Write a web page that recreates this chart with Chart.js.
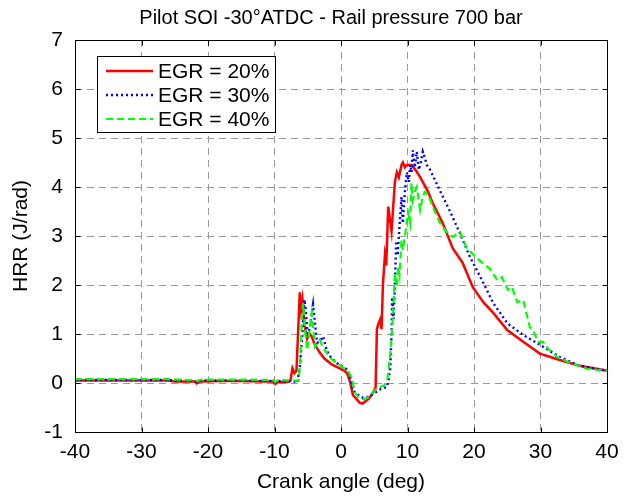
<!DOCTYPE html>
<html><head><meta charset="utf-8">
<script src="https://cdn.jsdelivr.net/npm/chart.js@4"></script>
<style>html,body{margin:0;padding:0;background:#fff}#wrap{width:634px;height:496px}</style>
</head><body><div id="wrap"><canvas id="c" width="634" height="496"></canvas></div>
<script>
const chartTitle = 'Pilot SOI -30°ATDC - Rail pressure 700 bar';
const xAxisTitle = 'Crank angle (deg)';
const yAxisTitle = 'HRR (J/rad)';
const xTicks = [-40,-30,-20,-10,0,10,20,30,40];
const yTicks = [-1,0,1,2,3,4,5,6,7];
const seriesNames = ['EGR = 20%','EGR = 30%','EGR = 40%'];

const egr20X = [-40,-35,-30,-26,-25,-22,-21.7,-21.2,-18,-15,-12,-10.3,-9.9,-9.4,-8,-7.6,-7.3,-7.0,-6.7,-6.4,-6.2,-6.0,-5.8,-5.5,-5.1,-4.7,-4.4,-4.0,-3.2,-2.5,-1.4,-0.5,0.5,1.0,1.4,1.8,2.3,2.8,3.2,3.6,4.2,4.8,5.2,5.4,5.6,5.9,6.1,6.3,6.6,6.8,7.1,7.4,7.6,8.1,8.4,8.7,9.1,9.3,9.6,9.9,10.6,11.2,11.9,13.1,13.8,15.3,16.8,18.3,19.8,21.4,22.9,25,27.4,29.9,32.9,35.9,38,40];
const egr20Y = [0.05,0.05,0.05,0.05,0.03,0.03,-0.01,0.03,0.04,0.04,0.03,0.03,-0.02,0.02,0.02,0.05,0.3,0.2,0.25,1.2,1.85,1.5,1.7,1.2,0.9,1.0,0.95,0.8,0.62,0.5,0.38,0.32,0.25,0.18,0.0,-0.25,-0.32,-0.4,-0.42,-0.38,-0.32,-0.2,-0.1,1.1,1.2,1.3,1.1,2.0,2.6,2.4,3.6,3.3,3.1,4.1,4.3,4.2,4.45,4.5,4.4,4.45,4.45,4.35,4.2,3.9,3.67,3.26,2.75,2.45,1.96,1.65,1.43,1.08,0.84,0.6,0.47,0.35,0.3,0.25];

const egr30X = [-40,-30,-26,-25,-22,-21.7,-21,-15,-10.2,-9.9,-9.5,-7,-6.6,-6.2,-5.8,-5.5,-5.3,-5.0,-4.6,-4.2,-3.9,-3.6,-3.2,-2.7,-2.1,-1.5,-0.6,0.3,1.0,1.4,1.8,2.3,3.3,4.2,5.1,6.0,6.9,7.2,7.4,7.6,7.7,7.9,8.1,8.3,8.5,8.9,9.1,9.3,9.6,9.9,10.2,10.4,10.6,10.8,11.1,11.4,11.7,12.0,12.3,12.6,12.9,13.4,14.9,16.4,17.9,19.4,20.9,22.9,25,27.4,29.9,32.9,35.9,38,40];
const egr30Y = [0.06,0.06,0.06,0.05,0.04,0.02,0.05,0.05,0.04,0.01,0.04,0.03,0.0,0.3,1.0,1.7,1.5,0.95,1.2,1.6,1.2,0.82,0.85,0.95,0.65,0.52,0.4,0.33,0.27,0.1,-0.14,-0.22,-0.3,-0.28,-0.2,-0.12,-0.08,0.1,0.3,1.0,1.75,1.3,2.0,2.9,2.6,3.4,3.8,3.26,3.9,4.3,4.1,4.45,4.3,4.75,4.4,4.72,4.35,4.5,4.72,4.6,4.45,4.35,3.92,3.5,3.05,2.57,2.18,1.63,1.22,0.98,0.78,0.53,0.35,0.3,0.25];

const egr40X = [-40,-30,-26,-25,-22,-21.7,-21,-15,-10.2,-9.9,-9.5,-7,-6.4,-6.1,-5.9,-5.7,-5.4,-5.1,-4.8,-4.4,-4.1,-3.9,-3.2,-2.6,-1.5,-0.6,0.3,1.0,1.6,2.1,2.7,3.3,4.0,4.8,5.5,6.5,7.0,7.4,7.7,7.9,8.1,8.4,8.6,8.8,9.1,9.3,9.8,10.1,10.4,10.6,10.8,11.1,11.4,11.9,12.3,12.6,13.1,13.8,14.9,15.9,16.8,17.9,18.9,20.4,22.4,23.5,24.2,25.1,25.7,26.5,27.4,28.4,28.9,29.6,30.4,31.1,32.5,34.5,37,40];
const egr40Y = [0.08,0.08,0.08,0.07,0.06,0.04,0.07,0.07,0.06,0.02,0.06,0.05,0.05,0.5,1.3,1.63,1.1,0.67,1.0,1.43,1.0,0.74,0.88,0.7,0.5,0.4,0.32,0.25,0.12,-0.2,-0.3,-0.33,-0.3,-0.2,-0.1,-0.05,0.1,0.6,1.1,1.6,2.24,1.97,2.37,2.2,2.92,2.71,3.18,3.47,3.26,4.08,3.73,3.9,4.0,3.53,3.8,3.9,3.84,3.6,3.26,3.08,2.98,3.08,2.76,2.55,2.33,2.1,2.16,1.9,1.96,1.65,1.69,1.14,1.08,0.84,0.84,0.71,0.53,0.41,0.29,0.25];

const FONT = 'Liberation Sans, Arial, Helvetica, sans-serif';
const toPts = (xs, ys) => xs.map((x, i) => ({x: x, y: ys[i]}));

const styles = [
  {color: '#ff0000', width: 2.5, dash: []},
  {color: '#0000ff', width: 2.4, dash: [2, 3]},
  {color: '#00ff00', width: 2.2, dash: [7, 4]}
];
const seriesData = [toPts(egr20X, egr20Y), toPts(egr30X, egr30Y), toPts(egr40X, egr40Y)];

const frame = {
  id: 'frame',
  afterDatasetsDraw(chart) {
    const {ctx, chartArea: a, scales} = chart;
    const L = Math.round(a.left) + 0.5, R = Math.round(a.right) + 0.5;
    const T = Math.round(a.top) + 0.5, B = Math.round(a.bottom) + 0.5;
    ctx.save();
    ctx.strokeStyle = '#000'; ctx.lineWidth = 1; ctx.setLineDash([]);
    ctx.strokeRect(L, T, R - L, B - T);
    ctx.beginPath();
    xTicks.forEach(v => {
      const p = Math.round(scales.x.getPixelForValue(v)) + 0.5;
      ctx.moveTo(p, B); ctx.lineTo(p, B - 5);
      ctx.moveTo(p, T); ctx.lineTo(p, T + 5);
    });
    yTicks.forEach(v => {
      const p = Math.round(scales.y.getPixelForValue(v)) + 0.5;
      ctx.moveTo(L, p); ctx.lineTo(L + 5, p);
      ctx.moveTo(R, p); ctx.lineTo(R - 5, p);
    });
    ctx.stroke();
    // title
    ctx.fillStyle = '#000';
    ctx.font = '20px ' + FONT;
    ctx.textAlign = 'center';
    ctx.textBaseline = 'middle';
    ctx.fillText(chartTitle, 331, 18);
    // legend
    const bx = 97.5, by = 56.5, bw = 178, bh = 76;
    ctx.fillStyle = '#fff';
    ctx.fillRect(bx, by, bw, bh);
    ctx.strokeRect(bx, by, bw, bh);
    const rows = [71, 95, 119];
    ctx.font = '21px ' + FONT;
    ctx.textBaseline = 'middle';
    ctx.textAlign = 'left';
    seriesNames.forEach((name, i) => {
      const s = styles[i];
      ctx.strokeStyle = s.color; ctx.lineWidth = s.width; ctx.setLineDash(s.dash);
      ctx.beginPath(); ctx.moveTo(106, rows[i]); ctx.lineTo(153, rows[i]); ctx.stroke();
      ctx.fillStyle = '#000';
      ctx.fillText(name, 158, rows[i] + 1);
    });
    ctx.restore();
  }
};

new Chart(document.getElementById('c'), {
  type: 'scatter',
  data: {
    datasets: seriesNames.map((n, i) => ({
      label: n,
      data: seriesData[i],
      showLine: true,
      borderColor: styles[i].color,
      backgroundColor: styles[i].color,
      borderWidth: styles[i].width,
      borderDash: styles[i].dash,
      pointRadius: 0,
      tension: 0,
      order: 2 - i
    }))
  },
  options: {
    responsive: false,
    animation: false,
    devicePixelRatio: 1,
    layout: {padding: {left: 0, right: 27, top: 40, bottom: 0}},
    plugins: {
      legend: {display: false},
      tooltip: {enabled: false},
      title: {display: false}
    },
    scales: {
      x: {
        type: 'linear', min: -40, max: 40,
        afterBuildTicks: s => { s.ticks = xTicks.map(v => ({value: v})); },
        afterFit: s => { s.height = 64; },
        ticks: {color: '#000', font: {family: FONT, size: 21}, padding: 8, maxRotation: 0},
        grid: {color: '#9a9a9a', lineWidth: 1, drawTicks: false},
        border: {display: false, dash: [7, 5]},
        title: {display: true, text: xAxisTitle, color: '#000', font: {family: FONT, size: 21}, padding: {top: 0, bottom: 1}}
      },
      y: {
        type: 'linear', min: -1, max: 7,
        afterBuildTicks: s => { s.ticks = yTicks.map(v => ({value: v})); },
        afterFit: s => { s.width = 75; },
        ticks: {color: '#000', font: {family: FONT, size: 21}, padding: 12},
        grid: {color: '#9a9a9a', lineWidth: 1, drawTicks: false},
        border: {display: false, dash: [7, 5]},
        title: {display: true, text: yAxisTitle, color: '#000', font: {family: FONT, size: 21}, padding: {top: 9, bottom: 0}}
      }
    }
  },
  plugins: [frame]
});
</script>
</body></html>
